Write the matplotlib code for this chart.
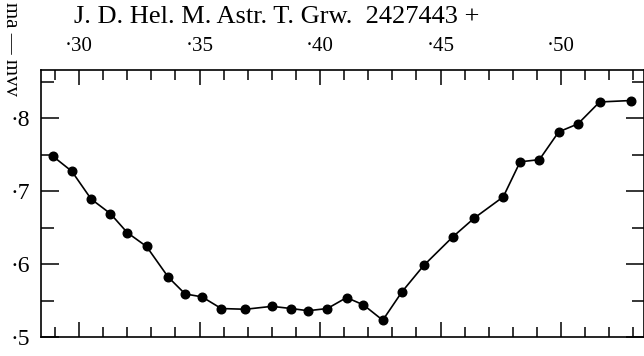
import matplotlib
matplotlib.use('Agg')
import matplotlib.pyplot as plt
from matplotlib.ticker import MultipleLocator, FixedLocator

# J.D. fraction (2427443 + x) and magnitude difference ma - mvv
jd = [0.289, 0.297, 0.305, 0.313, 0.320, 0.328, 0.337, 0.344, 0.351, 0.359,
      0.369, 0.380, 0.388, 0.395, 0.403, 0.411, 0.418, 0.426, 0.434, 0.443,
      0.455, 0.464, 0.476, 0.483, 0.491, 0.499, 0.507, 0.516, 0.529]
mag = [0.748, 0.727, 0.689, 0.669, 0.643, 0.624, 0.582, 0.559, 0.555, 0.539,
       0.538, 0.542, 0.539, 0.536, 0.539, 0.554, 0.544, 0.523, 0.562, 0.598,
       0.637, 0.663, 0.692, 0.740, 0.743, 0.781, 0.792, 0.822, 0.824]

x_ticks = [0.30, 0.35, 0.40, 0.45, 0.50]
x_labels = ['·30', '·35', '·40', '·45', '·50']
y_ticks = [0.5, 0.6, 0.7, 0.8]
y_labels = ['·5', '·6', '·7', '·8']

plt.rcParams['font.family'] = ['Liberation Serif', 'DejaVu Serif']

fig = plt.figure(figsize=(6.44, 3.56), dpi=100)
ax = fig.add_axes([41 / 644, 19 / 356, 603 / 644, 267 / 356])

ax.plot(jd, mag, color='black', lw=1.2, marker='o', ms=6.2,
        markerfacecolor='black', markeredgecolor='black')

ax.set_xlim(0.2842, 0.5344)
ax.set_ylim(0.5, 0.8658)

ax.xaxis.set_major_locator(FixedLocator(x_ticks))
ax.xaxis.set_minor_locator(MultipleLocator(0.01))
ax.yaxis.set_major_locator(FixedLocator(y_ticks))
ax.yaxis.set_minor_locator(MultipleLocator(0.05))
ax.set_xticklabels(x_labels)
ax.set_yticklabels(y_labels)

ax.tick_params(axis='x', which='both', direction='in', top=True, bottom=True,
               labeltop=True, labelbottom=False, labelsize=15, pad=10, width=1.1)
ax.tick_params(axis='x', which='major', length=11)
ax.tick_params(axis='x', which='minor', length=7)
ax.tick_params(axis='y', which='both', direction='in', left=True, right=True,
               labelsize=17, pad=8, width=1.1)
ax.tick_params(axis='y', which='major', length=13)
ax.tick_params(axis='y', which='minor', length=9)

for s in ax.spines.values():
    s.set_linewidth(1.2)

fig.text(277 / 644, 1 - 17 / 356, 'J. D. Hel. M. Astr. T. Grw.  2427443 +',
         ha='center', va='center', fontsize=19)
fig.text(10 / 644, 1 - 2 / 356, 'ma — mvv', rotation=270,
         ha='center', va='top', fontsize=15)

fig.savefig('out.png', dpi=100)
